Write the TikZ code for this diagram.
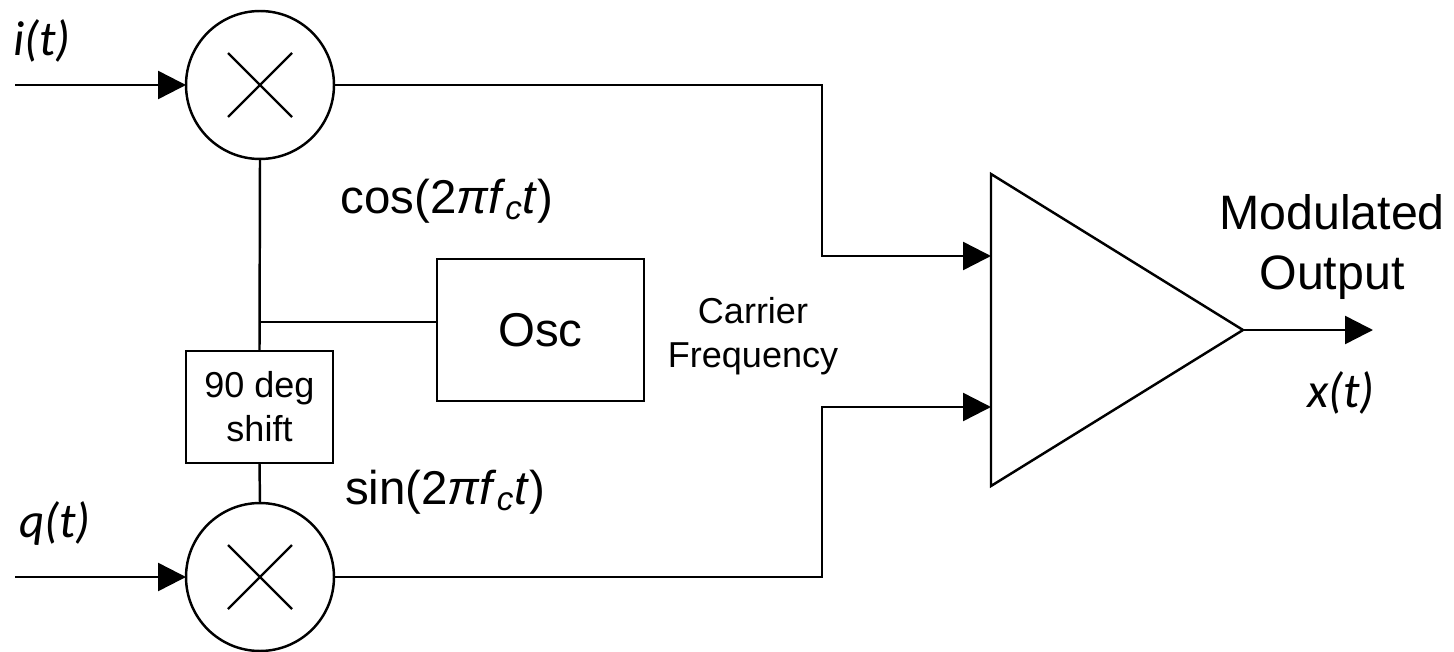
\documentclass[tikz,border=0pt]{standalone}
\usepackage{fontspec}
\setmainfont{Liberation Sans}
\newfontfamily\labelfont{Carlito}
\usetikzlibrary{arrows.meta}
\tikzset{
  sig/.style={line width=1.4pt,-{Triangle[length=0.56cm,width=0.56cm]}},
  wire/.style={line width=1.4pt},
  mixer/.style={circle,draw,line width=1.4pt,minimum size=2.96cm,inner sep=0pt,outer sep=0pt,
    path picture={\draw[line width=1.4pt] (path picture bounding box.center) ++(-32,-32) -- ++(64,64);
                  \draw[line width=1.4pt] (path picture bounding box.center) ++(-32,32) -- ++(64,-64);}},
  blockbox/.style={rectangle,draw,line width=1.4pt,inner sep=0pt,outer sep=0pt,align=center},
  siglabel/.style={font=\labelfont\itshape\fontsize{28}{30}\selectfont,inner sep=0pt},
  freqlabel/.style={font=\fontsize{27}{30}\selectfont,inner sep=0pt},
  smalllabel/.style={font=\fontsize{20.5}{25}\selectfont,inner sep=0pt,align=center},
  biglabel/.style={font=\fontsize{27.5}{34}\selectfont,inner sep=0pt,align=center},
}
\begin{document}
\begin{tikzpicture}[x=0.02cm,y=-0.02cm]
\useasboundingbox (0,0) rectangle (1454,652);
% mixers
\node[mixer] (mixtop) at (260,85) {};
\node[mixer] (mixbot) at (260,577) {};
% blocks
\node[blockbox,minimum width=4.14cm,minimum height=2.84cm,font=\fontsize{27}{30}\selectfont] (osc) at (540.5,330) {Osc};
\node[blockbox,minimum width=2.94cm,minimum height=2.24cm,font=\fontsize{20.5}{25}\selectfont] (shift) at (259.5,407) {90 deg\\shift};
% amplifier
\coordinate (ampa) at (991,174);
\coordinate (ampb) at (991,486);
\coordinate (ampout) at (1243,330);
\draw[wire] (ampa) -- (ampout) -- (ampb) -- cycle;
% free ends
\coordinate (intop) at (15,85);
\coordinate (inbot) at (15,577);
\coordinate (bendtop) at (822,256);
\coordinate (bendbot) at (822,407);
\coordinate (ampin1) at (991,256);
\coordinate (ampin2) at (991,407);
\coordinate (outend) at (1373,330);
\coordinate (tap) at (260,322);
% connectors
\draw[sig] (intop) -- (mixtop.west);
\draw[sig] (inbot) -- (mixbot.west);
\draw[sig] (mixtop.east) -| (bendtop) -- (ampin1);
\draw[sig] (mixbot.east) -| (bendbot) -- (ampin2);
\draw[sig] (ampout) -- (outend);
\draw[wire] (mixtop.south) -- (shift.north);
\draw[wire] (shift.south) -- (mixbot.north);
\draw[wire] (tap) -- (tap -| osc.west);
% labels
\node[siglabel] (ilabel) at (42,41) {i(t)};
\node[siglabel] (qlabel) at (55,523) {q(t)};
\node[siglabel] (xlabel) at (1341,393) {x(t)};
\node[freqlabel] (coslabel) at (447,201) {cos(2\textit{πf}\textsubscript{\itshape c}\textit{t})};
\node[freqlabel] (sinlabel) at (445,492) {sin(2\textit{πf}\textsubscript{\itshape c}\textit{t})};
\node[smalllabel] (carrier) at (753,336) {Carrier\\Frequency};
\node[biglabel] (modout) at (1332,247) {Modulated\\Output};
\end{tikzpicture}
\end{document}
